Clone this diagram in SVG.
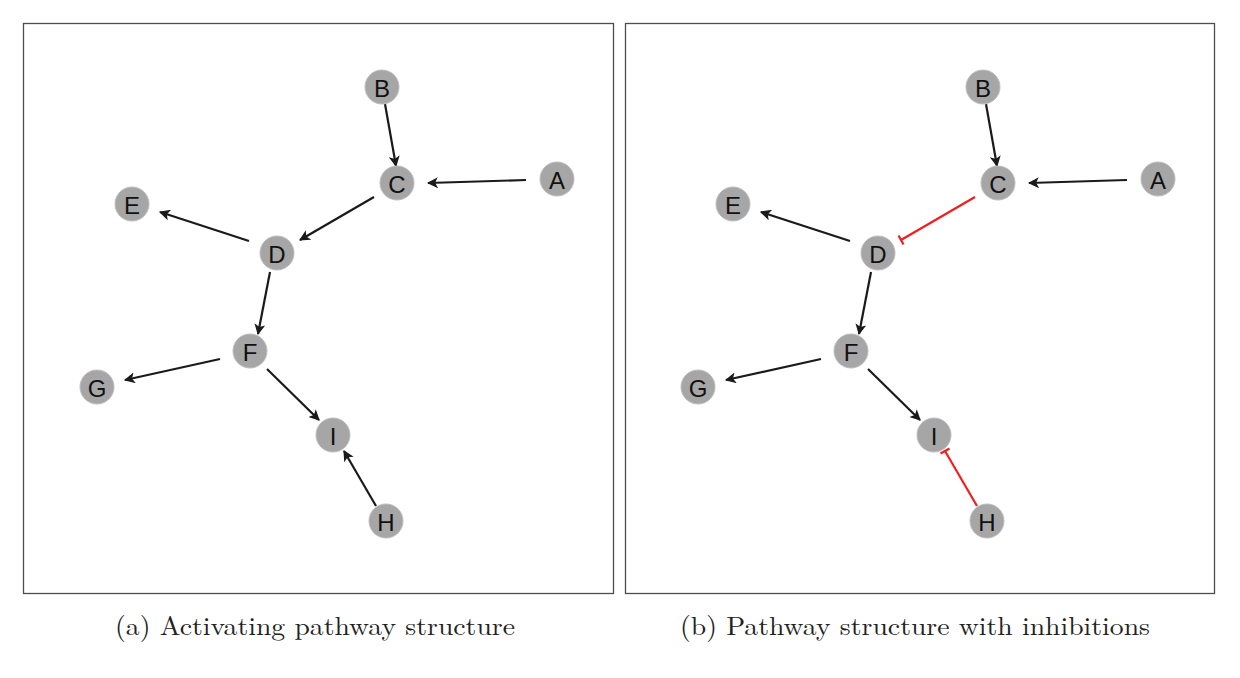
<svg xmlns="http://www.w3.org/2000/svg" width="1240" height="678" viewBox="0 0 1240 678">
<style>
.frame{fill:none;stroke:#4d4d4d;stroke-width:1.3}
.node circle{fill:#a6a6a6;stroke:#bdbdbd;stroke-width:1}
.node text{font-family:"Liberation Sans",Arial,sans-serif;font-size:24px;fill:#111;text-anchor:middle;dominant-baseline:central}
.act{stroke:#1a1a1a;stroke-width:2.2;fill:none;marker-end:url(#arr)}
.inh{stroke:#f01e1e;stroke-width:2.2;fill:none}
.cap{font-family:"Latin Modern Roman","CMU Serif","Liberation Serif",serif;font-size:26px;fill:#222;text-anchor:middle}
</style>
<defs>
<marker id="arr" viewBox="0 0 10 10" refX="9" refY="5" markerWidth="5" markerHeight="5" orient="auto" markerUnits="strokeWidth">
<path d="M0,0 L10,5 L0,10 L2.5,5 z" fill="#1a1a1a"/>
</marker>
</defs>
<rect class="frame" x="23.5" y="23.5" width="590" height="570"/>
<rect class="frame" x="625.5" y="23.5" width="589" height="570"/>
<g id="connectors">
<line class="act" x1="385" y1="104" x2="396" y2="166"/>
<line class="act" x1="526" y1="180" x2="428" y2="183"/>
<line class="act" x1="374" y1="197" x2="300" y2="240"/>
<line class="act" x1="249" y1="241" x2="160" y2="212"/>
<line class="act" x1="270" y1="272" x2="258" y2="334"/>
<line class="act" x1="220" y1="359" x2="125" y2="380"/>
<line class="act" x1="267" y1="369" x2="319" y2="420"/>
<line class="act" x1="376" y1="506" x2="344" y2="451"/>
<line class="act" x1="986" y1="104" x2="997" y2="166"/>
<line class="act" x1="1127" y1="180" x2="1029" y2="183"/>
<line class="inh" x1="975" y1="197" x2="901" y2="240"/>
<line class="inh" x1="898.5" y1="235.5" x2="903.5" y2="244.5"/>
<line class="act" x1="850" y1="241" x2="761" y2="212"/>
<line class="act" x1="871" y1="272" x2="859" y2="334"/>
<line class="act" x1="821" y1="359" x2="726" y2="380"/>
<line class="act" x1="868" y1="369" x2="920" y2="420"/>
<line class="inh" x1="977" y1="506" x2="945" y2="451"/>
<line class="inh" x1="940.5" y1="453.5" x2="949.5" y2="448.5"/>
</g>
<g id="a-B" class="node"><circle cx="382" cy="87" r="17"/><text x="382" y="88">B</text></g>
<g id="a-C" class="node"><circle cx="397" cy="183" r="17"/><text x="397" y="184">C</text></g>
<g id="a-A" class="node"><circle cx="557" cy="179" r="17"/><text x="557" y="180">A</text></g>
<g id="a-E" class="node"><circle cx="132" cy="204" r="17"/><text x="132" y="205">E</text></g>
<g id="a-D" class="node"><circle cx="277" cy="253" r="17"/><text x="277" y="254">D</text></g>
<g id="a-F" class="node"><circle cx="250" cy="351" r="17"/><text x="250" y="352">F</text></g>
<g id="a-G" class="node"><circle cx="97" cy="387" r="17"/><text x="97" y="388">G</text></g>
<g id="a-I" class="node"><circle cx="333" cy="435" r="17"/><text x="333" y="436">I</text></g>
<g id="a-H" class="node"><circle cx="386" cy="521" r="17"/><text x="386" y="522">H</text></g>
<g id="b-B" class="node"><circle cx="983" cy="87" r="17"/><text x="983" y="88">B</text></g>
<g id="b-C" class="node"><circle cx="998" cy="183" r="17"/><text x="998" y="184">C</text></g>
<g id="b-A" class="node"><circle cx="1158" cy="179" r="17"/><text x="1158" y="180">A</text></g>
<g id="b-E" class="node"><circle cx="733" cy="204" r="17"/><text x="733" y="205">E</text></g>
<g id="b-D" class="node"><circle cx="878" cy="253" r="17"/><text x="878" y="254">D</text></g>
<g id="b-F" class="node"><circle cx="851" cy="351" r="17"/><text x="851" y="352">F</text></g>
<g id="b-G" class="node"><circle cx="698" cy="387" r="17"/><text x="698" y="388">G</text></g>
<g id="b-I" class="node"><circle cx="934" cy="435" r="17"/><text x="934" y="436">I</text></g>
<g id="b-H" class="node"><circle cx="987" cy="521" r="17"/><text x="987" y="522">H</text></g>
<text class="cap" x="315" y="635" textLength="400" lengthAdjust="spacingAndGlyphs">(a) Activating pathway structure</text>
<text class="cap" x="915" y="635" textLength="470" lengthAdjust="spacingAndGlyphs">(b) Pathway structure with inhibitions</text>
</svg>
